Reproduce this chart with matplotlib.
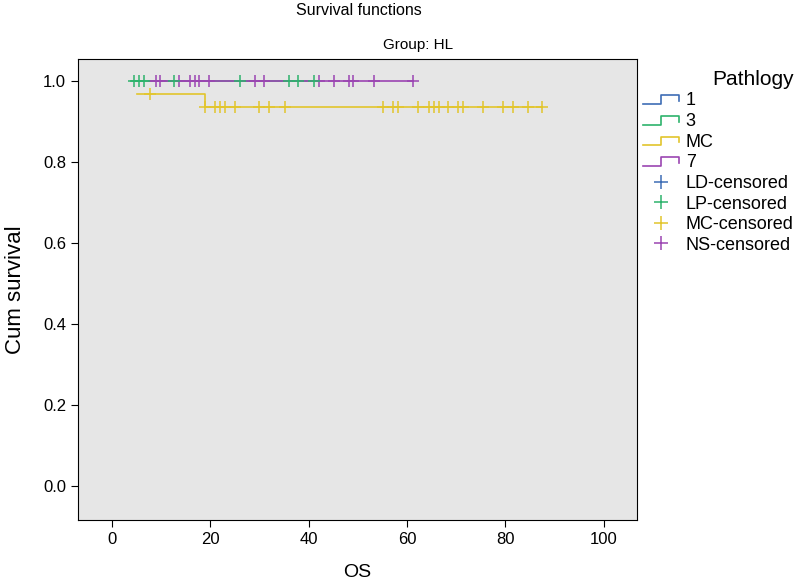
import matplotlib
matplotlib.use("Agg")
import matplotlib.pyplot as plt
from matplotlib.lines import Line2D
from matplotlib.legend_handler import HandlerBase

plt.rcParams['font.family'] = ['Liberation Sans', 'DejaVu Sans']

# ---- data ----
groups = ["1", "3", "MC", "7"]
censor_labels = ["LD-censored", "LP-censored", "MC-censored", "NS-censored"]
colors = ["#3E6DB5", "#2DB36C", "#E2C52C", "#9B45B2"]

# step curves: times and survival values
t_lp = [3.9, 42.0]
s_lp = [1.0, 1.0]
t_mc = [5.0, 18.9, 87.5]
s_mc = [0.968, 0.935, 0.935]
t_ns = [7.5, 61.3]
s_ns = [1.0, 1.0]

# censored times
c_lp = [4.5, 5.5, 6.5, 12.7, 26.0, 35.9, 37.9, 41.0]
c_lp_s = [1.0] * len(c_lp)
c_ns = [8.9, 9.7, 13.7, 15.8, 16.8, 17.7, 19.7, 29.0, 31.0, 42.0, 45.1,
        48.1, 49.1, 53.3, 61.3]
c_ns_s = [1.0] * len(c_ns)
c_mc_hi = [7.7]
c_mc_lo = [19.0, 20.9, 22.0, 22.9, 25.0, 29.8, 32.0, 35.1, 55.2, 57.2, 58.2,
           62.3, 64.4, 65.4, 66.4, 68.4, 70.4, 71.3, 75.5, 79.4, 81.6, 84.6, 87.5]
c_mc = c_mc_hi + c_mc_lo
c_mc_s = [0.968] * len(c_mc_hi) + [0.935] * len(c_mc_lo)

xticks = [0, 20, 40, 60, 80, 100]
yticks = [0.0, 0.2, 0.4, 0.6, 0.8, 1.0]

fig = plt.figure(figsize=(8, 5.8), dpi=100)
ax = fig.add_axes([0.0975, 0.1034, 0.6985, 0.7946])
ax.set_facecolor("#E6E6E6")

lw = 1.2
ax.step(t_lp, s_lp, where="post", color=colors[1], lw=lw)
ax.step(t_mc, s_mc, where="post", color=colors[2], lw=lw)
ax.step(t_ns, s_ns, where="post", color=colors[3], lw=lw)

ms = 8.5
mew = 1.1
ax.plot(c_mc, c_mc_s, ls="none", marker="+", ms=ms, mew=mew, color=colors[2])
ax.plot(c_ns, c_ns_s, ls="none", marker="+", ms=ms, mew=mew, color=colors[3])
ax.plot(c_lp, c_lp_s, ls="none", marker="+", ms=ms, mew=mew, color=colors[1])

ax.set_xlim(-6.9, 106.7)
ax.set_ylim(-0.084, 1.054)
ax.set_xticks(xticks)
ax.set_yticks(yticks)
ax.set_yticklabels([f"{v:.1f}" for v in yticks])
ax.tick_params(direction="out", length=5, labelsize=12, width=0.8)
for sp in ax.spines.values():
    sp.set_linewidth(0.8)
ax.set_xlabel("OS", fontsize=14, labelpad=12)
ax.set_ylabel("Cum survival", fontsize=16, labelpad=12)

fig.text(0.449, 0.994, "Survival functions", ha="center", va="top", fontsize=11.5)
fig.text(0.523, 0.935, "Group: HL", ha="center", va="top", fontsize=11)


class StepHandler(HandlerBase):
    def create_artists(self, legend, orig_handle, xdescent, ydescent,
                       width, height, fontsize, trans):
        x0 = -xdescent
        y0 = -ydescent
        xs = [x0, x0 + 0.5 * width, x0 + 0.5 * width, x0 + width, x0 + width]
        ys = [y0 + 0.1 * height, y0 + 0.1 * height, y0 + 0.8 * height,
              y0 + 0.8 * height, y0 + 0.35 * height]
        ln = Line2D(xs, ys, color=orig_handle.get_color(), lw=1.2, transform=trans)
        return [ln]


handles = []
labels = []
for g, c in zip(groups, colors):
    handles.append(Line2D([], [], color=c))
    labels.append(g)
for lab, c in zip(censor_labels, colors):
    h = Line2D([], [], ls="none", marker="+", ms=10, mew=1.1, color=c)
    handles.append(h)
    labels.append(lab)

hmap = {h: StepHandler() for h in handles[:4]}
leg = fig.legend(handles, labels, loc="upper left", bbox_to_anchor=(0.795, 0.892),
                 frameon=False, fontsize=13, handlelength=2.0, handletextpad=0.35,
                 labelspacing=0.2, title="Pathlogy", title_fontsize=15,
                 handler_map=hmap, borderaxespad=0)
leg._legend_box.align = "right"

fig.savefig("out.png", dpi=100)
